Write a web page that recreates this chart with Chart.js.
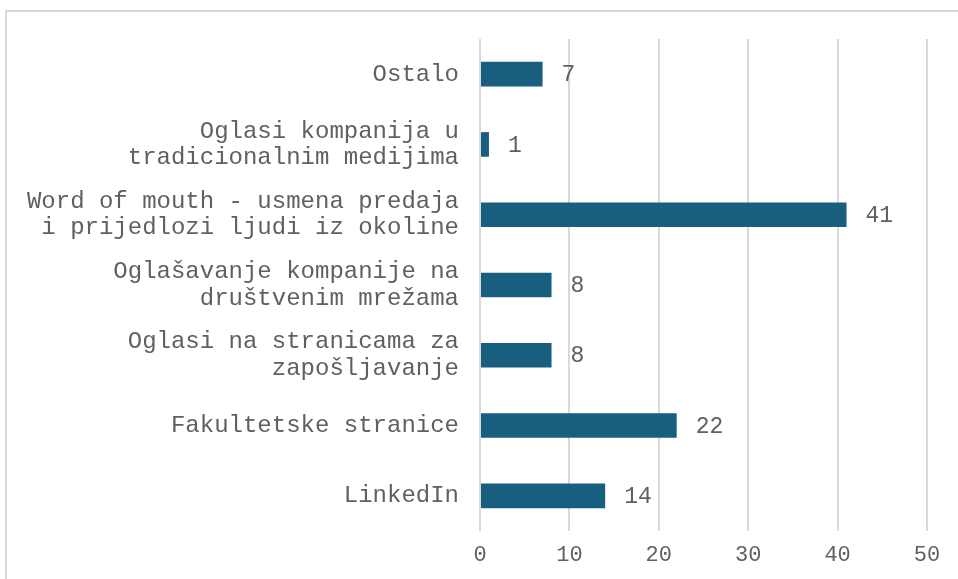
<!DOCTYPE html>
<html>
<head>
<meta charset="utf-8">
<script src="https://cdn.jsdelivr.net/npm/chart.js@4.4.1/dist/chart.umd.min.js"></script>
<style>
    html, body { margin: 0; padding: 0; background: #fff; overflow: hidden; }
    .frame {
        position: absolute; left: 5px; top: 10px;
        width: 970px; height: 590px;
        border: 2px solid #d9d9d9; box-sizing: border-box;
    }
    .wrap { position: absolute; left: 0; top: 0; width: 958px; height: 579px; }
</style>
</head>
<body>
<div class="frame"></div>
<div class="wrap"><canvas id="sourceChart"></canvas></div>
<script>
const categories = [
    'Ostalo',
    ['Oglasi kompanija u', 'tradicionalnim medijima'],
    ['Word of mouth - usmena predaja', 'i prijedlozi ljudi iz okoline'],
    ['Oglašavanje kompanije na', 'društvenim mrežama'],
    ['Oglasi na stranicama za', 'zapošljavanje'],
    'Fakultetske stranice',
    'LinkedIn'
];
const counts = [7, 1, 41, 8, 8, 22, 14];

const chartColors = {
    bar: '#175e7f',
    text: '#606060',
    grid: '#d9d9d9'
};
const fontFamily = '"Liberation Mono", "Courier New", monospace';

// value labels next to each bar
const valueLabels = {
    id: 'valueLabels',
    afterDatasetsDraw(chart) {
        const ctx = chart.ctx;
        const meta = chart.getDatasetMeta(0);
        ctx.save();
        ctx.font = '23px ' + fontFamily;
        ctx.fillStyle = chartColors.text;
        ctx.textAlign = 'left';
        ctx.textBaseline = 'middle';
        meta.data.forEach((bar, i) => {
            ctx.fillText(String(counts[i]), bar.x + 19, bar.y + 1);
        });
        ctx.restore();
    }
};

const ctx = document.getElementById('sourceChart').getContext('2d');
new Chart(ctx, {
    type: 'bar',
    data: {
        labels: categories,
        datasets: [{
            data: counts,
            backgroundColor: chartColors.bar,
            categoryPercentage: 1,
            barPercentage: 0.35
        }]
    },
    options: {
        responsive: true,
        maintainAspectRatio: false,
        animation: false,
        indexAxis: 'y',
        layout: {
            padding: { left: 10, right: 31, top: 39, bottom: 0 }
        },
        plugins: {
            legend: { display: false },
            tooltip: { enabled: false }
        },
        scales: {
            x: {
                min: 0,
                max: 50,
                border: { display: false },
                grid: {
                    color: chartColors.grid,
                    lineWidth: 2,
                    drawTicks: false
                },
                ticks: {
                    stepSize: 10,
                    padding: 13,
                    color: chartColors.text,
                    font: { family: fontFamily, size: 22, lineHeight: 1 }
                }
            },
            y: {
                border: { display: false },
                grid: { display: false },
                afterFit: scale => { scale.width = 470; },
                ticks: {
                    padding: 13,
                    color: chartColors.text,
                    font: { family: fontFamily, size: 24, lineHeight: 1.1 }
                }
            }
        }
    },
    plugins: [valueLabels]
});
</script>
</body>
</html>
